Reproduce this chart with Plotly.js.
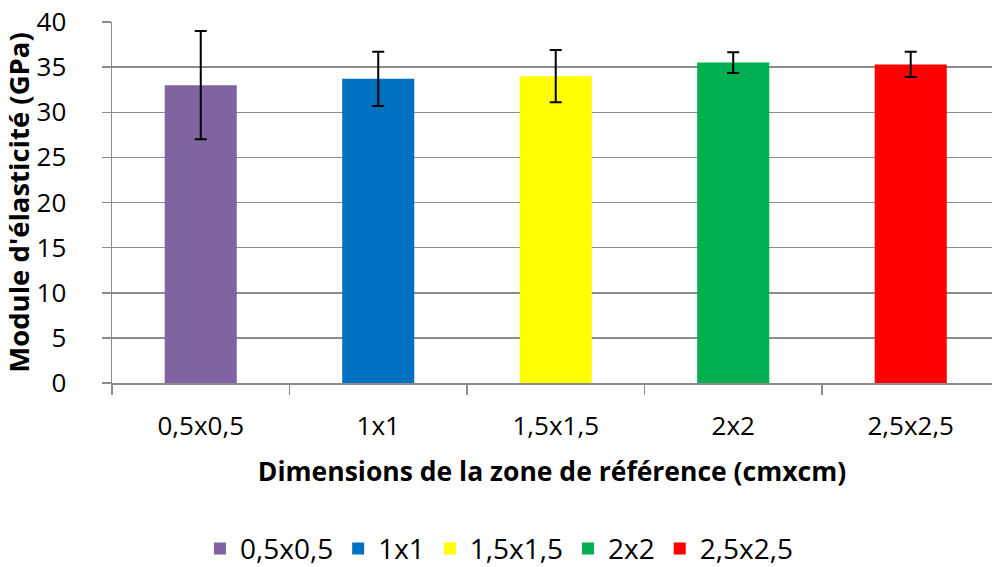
<!DOCTYPE html>
<html>
<head>
<meta charset="utf-8">
<script src="https://cdn.plot.ly/plotly-3.0.1.min.js"></script>
<style>html,body{margin:0;padding:0;background:#fff;}#chart{width:992px;height:567px;}</style>
</head>
<body>
<div id="chart"></div>
<script>
const categories = ['0,5x0,5', '1x1', '1,5x1,5', '2x2', '2,5x2,5'];
const values = [33.0, 33.7, 34.0, 35.5, 35.3];
const errors = [6.0, 3.0, 2.9, 1.15, 1.4];
const colors = ['#8064A2', '#0070C0', '#FFFF00', '#00B050', '#FF0000'];
const yTitle = "Module d'élasticité (GPa)";
const xTitle = 'Dimensions de la zone de référence (cmxcm)';

const FONT = 'Open Sans, Liberation Sans, sans-serif';
const grey = '#8c8c8c';

const traces = categories.map((c, i) => ({
  type: 'bar',
  name: c,
  x: [c],
  y: [values[i]],
  marker: {color: colors[i]},
  error_y: {type: 'data', array: [errors[i]], visible: true, color: '#000', thickness: 2, width: 6},
  hoverinfo: 'x+y'
}));

const layout = {
  width: 992, height: 567,
  margin: {l: 112, r: 0, t: 22, b: 184, pad: 0},
  paper_bgcolor: '#fff', plot_bgcolor: '#fff',
  font: {family: FONT, color: '#000', size: 26},
  barmode: 'overlay',
  bargap: 0.594,
  showlegend: true,
  legend: {
    orientation: 'h', xref: 'container', yref: 'container',
    x: 0.503, xanchor: 'center', y: 0.032, yanchor: 'middle',
    font: {family: FONT, size: 28, color: '#000'},
    itemwidth: 30, traceorder: 'normal'
  },
  xaxis: {
    type: 'category',
    range: [-0.5, 4.458],
    showline: true, linecolor: grey, linewidth: 1.5,
    ticks: 'outside', tickson: 'boundaries', ticklen: 10, tickcolor: grey, tickwidth: 1.5,
    showgrid: false, zeroline: false,
    tickfont: {family: FONT, size: 26, color: '#000'},
    ticklabelstandoff: 19,
    title: {text: xTitle, font: {family: FONT, size: 26.5, color: '#000', weight: 'bold'}, standoff: 20}
  },
  yaxis: {
    range: [0, 40], dtick: 5, tick0: 0,
    showline: true, linecolor: grey, linewidth: 1.5,
    ticks: 'outside', ticklen: 9, tickcolor: grey, tickwidth: 1.5,
    showgrid: true, gridcolor: grey, gridwidth: 1.5,
    zeroline: false,
    tickfont: {family: FONT, size: 26, color: '#000'},
    ticklabelstandoff: 30,
    title: {text: yTitle, font: {family: FONT, size: 27.5, color: '#000', weight: 'bold'}, standoff: 4}
  }
};

Plotly.newPlot('chart', traces, layout, {displayModeBar: false, staticPlot: true});
</script>
</body>
</html>
